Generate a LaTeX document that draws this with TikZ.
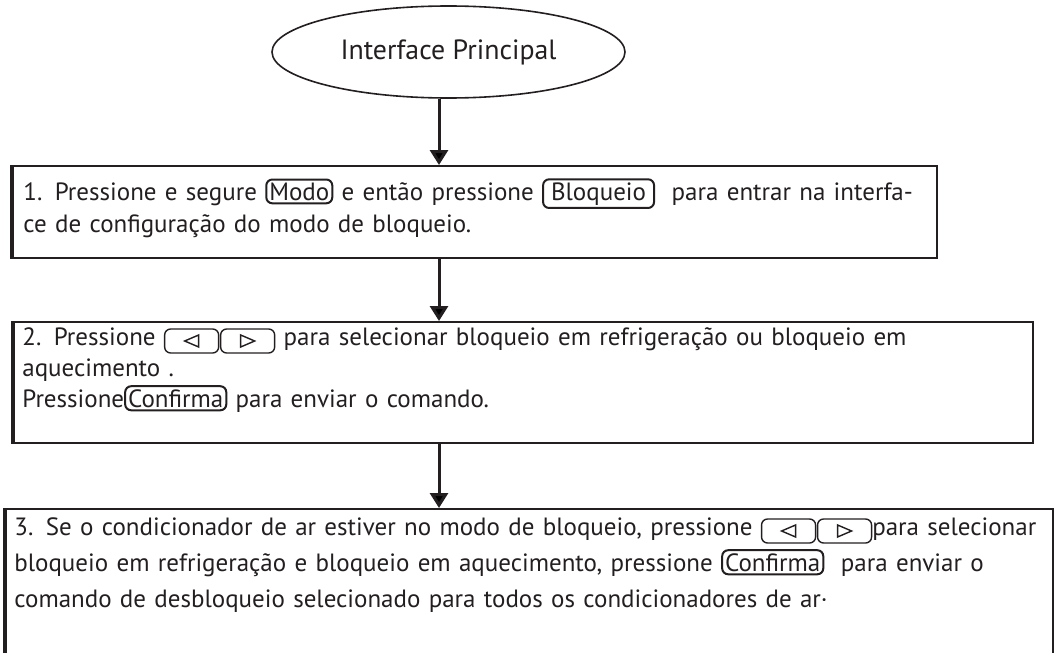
\documentclass[tikz,border=0pt]{standalone}
\usepackage{fontspec}
\setmainfont{PT Sans}
\usetikzlibrary{positioning,arrows.meta,shapes.geometric}
\definecolor{tinta}{HTML}{231F20}
\tikzset{
  keynode/.style={draw=tinta, line width=1pt, rounded corners=3pt, inner xsep=1.5pt, inner ysep=1.5pt},
  startnode/.style={ellipse, draw=tinta, line width=0.8pt, minimum width=176.5pt, minimum height=46pt, inner sep=0pt},
  stepframe/.style={draw=tinta, line width=1pt, anchor=north west, inner sep=0pt},
  steptext/.style={anchor=base west, inner sep=0pt, text width=560pt, align=left, text=tinta},
  flow/.style={-{Triangle[width=9pt, length=7.5pt]}, draw=tinta, line width=1.5pt}
}
\newlength{\linhawd}
\newlength{\titulowd}
\newcommand{\keybtn}[2][1.5pt]{\tikz[baseline=(kb.base)]\node[keynode, inner xsep=#1](kb){#2};}
\newcommand{\arrowpair}{\tikz[baseline=0pt, x=1pt, y=1pt, draw=tinta, line width=0.7pt]{
  \draw[rounded corners=3pt] (0,-4) rectangle (27,8);
  \draw[rounded corners=3pt] (28,-4) rectangle (55,8);
  \draw (17,-1) -- (10,2) -- (17,5) -- cycle;
  \draw (38,-1) -- (45,2) -- (38,5) -- cycle;}}

\begin{document}
\settowidth{\linhawd}{\fontsize{10}{12}\selectfont ce de configuração do modo de bloqueio.}
\settowidth{\titulowd}{\fontsize{10}{12}\selectfont Interface Principal}
\pgfmathsetmacro{\corpo}{10*219/\linhawd}
\pgfmathsetmacro{\titulo}{10*108/\titulowd}
\begin{tikzpicture}[x=0.5pt, y=-0.5pt, font=\fontsize{\corpo}{16}\selectfont]
  \useasboundingbox (0,0) rectangle (1056,653);
  \coordinate (eixo) at (439,0);
  \node[startnode, font=\fontsize{\titulo}{16}\selectfont, text=tinta] (inicio) at (448.5,52) {Interface Principal};
  \node[stepframe, minimum width=462pt, minimum height=46pt] (passo1) at (12,165) {};
  \node[stepframe, minimum width=509.5pt, minimum height=60.5pt] (passo2) at (13,321) {};
  \node[stepframe, minimum width=523.5pt, minimum height=76pt] (passo3) at (5,508) {};
  \foreach \p in {passo1,passo2,passo3}
    \draw[tinta, line width=2pt] (\p.north west) -- (\p.south west);
  \node[steptext] (texto1) at (23,200)
    {1. Pressione e segure \keybtn{Modo} e então pressione \keybtn[4pt]{Bloqueio}\ \ para entrar na interfa-\\
     ce de configuração do modo de bloqueio.};
  \node[steptext, font=\fontsize{\corpo}{15.5}\selectfont] (texto2) at (22,345)
    {2. Pressione \arrowpair{} para selecionar bloqueio em refrigeração ou bloqueio em\\
     aquecimento .\\
     Pressione\keybtn{Confirma} para enviar o comando.};
  \node[steptext, font=\fontsize{\corpo}{18}\selectfont] (texto3) at (14,535)
    {3. Se o condicionador de ar estiver no modo de bloqueio, pressione \arrowpair{}para selecionar\\
     bloqueio em refrigeração e bloqueio em aquecimento, pressione \keybtn{Confirma}\ \ para enviar o\\
     comando de desbloqueio selecionado para todos os condicionadores de ar·};
  \draw[flow] (inicio.south -| eixo) -- (passo1.north -| eixo);
  \draw[flow] (passo1.south -| eixo) -- (passo2.north -| eixo);
  \draw[flow] (passo2.south -| eixo) -- (passo3.north -| eixo);
\end{tikzpicture}
\end{document}
